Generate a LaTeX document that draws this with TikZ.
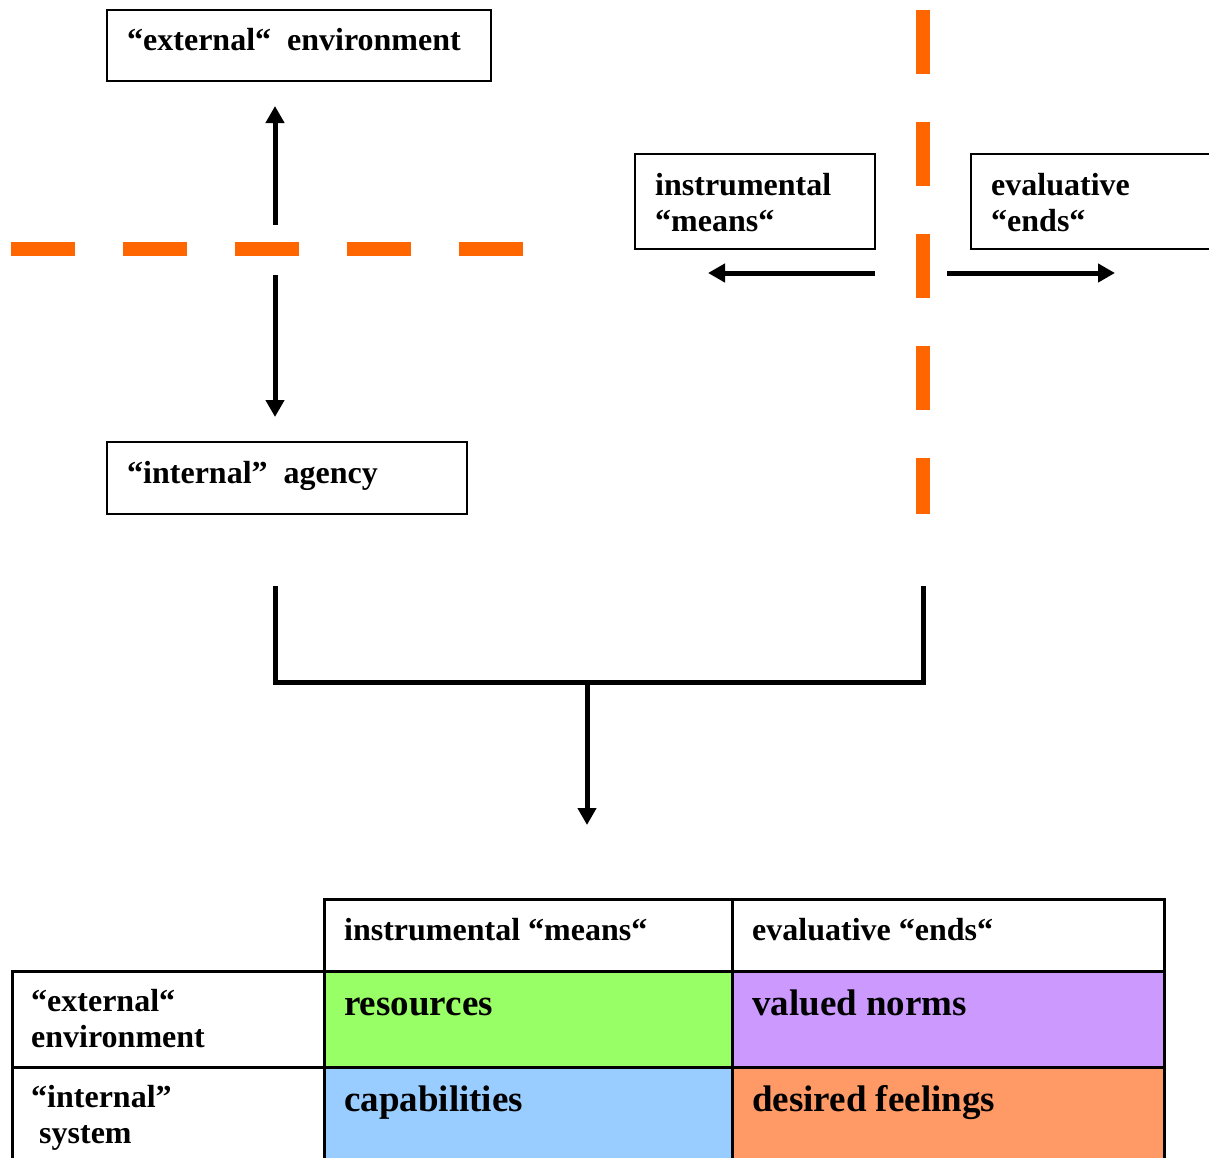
\documentclass[tikz,border=0pt]{standalone}
\usepackage{fontspec}
\setmainfont{Liberation Serif}
\usetikzlibrary{arrows.meta}
\definecolor{dashorange}{HTML}{FF6600}
\definecolor{resgreen}{HTML}{99FF66}
\definecolor{normpurple}{HTML}{CC99FF}
\definecolor{capblue}{HTML}{99CCFF}
\definecolor{feelorange}{HTML}{FF9966}
\begin{document}
\begin{tikzpicture}[x=1pt,y=-1pt,
  box/.style={draw, line width=2pt, inner sep=0pt},
  cell/.style={draw, line width=2.5pt, inner sep=0pt, anchor=north west},
  txt/.style={font=\fontsize{32}{36}\selectfont\bfseries, inner sep=0pt, anchor=base west},
  big/.style={font=\fontsize{37}{41}\selectfont\bfseries, inner sep=0pt, anchor=base west},
  arr/.style={line width=5pt, -{Triangle[length=17pt,width=18pt]}},
  bar/.style={line width=5pt, line join=miter},
  cut/.style={draw=dashorange, line width=14pt, dash pattern=on 64pt off 48pt},
]
\useasboundingbox (0,0) rectangle (1209,1157);
\clip (0,0) rectangle (1209,1157);

% dashed orange dividers
\coordinate (hl) at (11,249);
\coordinate (hr) at (523,249);
\coordinate (vt) at (923,10);
\coordinate (vb) at (923,514);
\draw[cut] (hl) -- (hr);
\draw[cut] (vt) -- (vb);

% framed boxes
\node[box, minimum width=384pt, minimum height=71pt] (ext) at (299,45.5) {};
\node[txt] (extT) at (127,50) {“external“\ \ environment};
\node[box, minimum width=360pt, minimum height=72pt] (agn) at (287,478) {};
\node[txt] (agnT) at (127,483) {“internal”\ \ agency};
\node[box, minimum width=240pt, minimum height=95pt] (mns) at (755,201.5) {};
\node[txt] (mnsT1) at (655,195) {instrumental};
\node[txt] (mnsT2) at (655,231) {“means“};
\node[box, minimum width=250pt, minimum height=95pt] (nds) at (1096,201.5) {};
\node[txt] (ndsT1) at (991,195) {evaluative};
\node[txt] (ndsT2) at (991,231) {“ends“};

% arrows leaving the dividers
\coordinate (upS) at (275,225);
\coordinate (upE) at (275,106);
\coordinate (dnS) at (275,275);
\coordinate (dnE) at (275,417);
\coordinate (ltS) at (875,273);
\coordinate (ltE) at (708,273);
\coordinate (rtS) at (947,273);
\coordinate (rtE) at (1115,273);
\draw[arr] (upS) -- (upE);
\draw[arr] (dnS) -- (dnE);
\draw[arr] (ltS) -- (ltE);
\draw[arr] (rtS) -- (rtE);

% joining bracket
\coordinate (bl) at (275,586);
\coordinate (blc) at (275,682);
\coordinate (brc) at (923,682);
\coordinate (br) at (923,586);
\coordinate (mid) at (587,682);
\coordinate (tip) at (587,825);
\draw[bar] (bl) -- (blc) -- (brc) -- (br);
\draw[arr] (mid) -- (tip);

% table
\node[cell, fill=white, minimum width=408pt, minimum height=72pt] (h1) at (323,898) {};
\node[cell, fill=white, minimum width=432pt, minimum height=72pt] (h2) at (731,898) {};
\node[cell, fill=white, minimum width=312pt, minimum height=96pt] (l1) at (11,970) {};
\node[cell, fill=resgreen, minimum width=408pt, minimum height=96pt] (c11) at (323,970) {};
\node[cell, fill=normpurple, minimum width=432pt, minimum height=96pt] (c12) at (731,970) {};
\node[cell, fill=white, minimum width=312pt, minimum height=110pt] (l2) at (11,1066) {};
\node[cell, fill=capblue, minimum width=408pt, minimum height=110pt] (c21) at (323,1066) {};
\node[cell, fill=feelorange, minimum width=432pt, minimum height=110pt] (c22) at (731,1066) {};

\node[txt] (h1T) at (344,940) {instrumental “means“};
\node[txt] (h2T) at (752,940) {evaluative “ends“};
\node[txt] (l1T1) at (31,1011) {“external“};
\node[txt] (l1T2) at (31,1047) {environment};
\node[txt] (l2T1) at (31,1107) {“internal”};
\node[txt] (l2T2) at (39,1143) {system};
\node[big] (c11T) at (344,1015) {resources};
\node[big] (c12T) at (752,1015) {valued norms};
\node[big] (c21T) at (344,1111) {capabilities};
\node[big] (c22T) at (752,1111) {desired feelings};
\end{tikzpicture}
\end{document}
